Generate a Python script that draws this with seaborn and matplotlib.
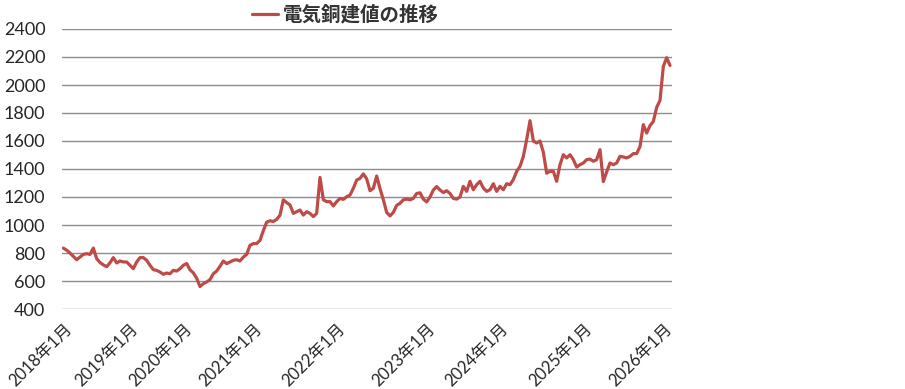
import matplotlib
matplotlib.use("Agg")
import matplotlib.pyplot as plt
import seaborn as sns
import pandas as pd

# ---- data ----
prices = [
    835, 820, 800, 776, 752, 771, 790, 795, 790, 835, 760, 732, 715, 702, 730, 767, 729, 743, 736, 736,
    712, 688, 736, 767, 767, 748, 712, 681, 676, 664, 648, 657, 652, 676, 671, 688, 712, 725, 680, 658,
    620, 560, 581, 593, 610, 652, 671, 705, 743, 724, 736, 748, 752, 743, 771, 790, 855, 867, 867, 890,
    960, 1020, 1030, 1025, 1040, 1070, 1180, 1160, 1143, 1083, 1095, 1107, 1071, 1095, 1083, 1060, 1083,
    1340, 1180, 1167, 1167, 1136, 1167, 1190, 1183, 1202, 1214, 1262, 1321, 1333, 1365, 1330, 1245, 1262,
    1350, 1260, 1180, 1090, 1065, 1090, 1140, 1155, 1180, 1185, 1180, 1190, 1225, 1230, 1185, 1165, 1200,
    1250, 1275, 1250, 1232, 1245, 1225, 1190, 1185, 1200, 1276, 1240, 1312, 1252, 1288, 1312, 1264, 1240,
    1252, 1295, 1240, 1276, 1252, 1295, 1288, 1324, 1383, 1419, 1490, 1610, 1745, 1600, 1586, 1600, 1520,
    1370, 1383, 1383, 1312, 1431, 1502, 1479, 1502, 1467, 1414, 1431, 1443, 1467, 1471, 1455, 1467, 1538,
    1310, 1380, 1443, 1431, 1443, 1490, 1486, 1479, 1490, 1510, 1510, 1560, 1717, 1657, 1710, 1740, 1840,
    1890, 2133, 2195, 2140,
]
year_labels = ["2018年1月", "2019年1月", "2020年1月", "2021年1月", "2022年1月",
               "2023年1月", "2024年1月", "2025年1月", "2026年1月"]
year_start_idx = [0, 20, 36, 57, 82, 109, 131, 156, 180]
series_name = "電気銅建値の推移"
y_ticks = [400, 600, 800, 1000, 1200, 1400, 1600, 1800, 2000, 2200, 2400]

df = pd.DataFrame({"idx": range(len(prices)), "price": prices, "series": series_name})

sns.set_style("white")
plt.rcParams["font.family"] = ["Lato", "Noto Sans CJK JP", "DejaVu Sans"]

fig = plt.figure(figsize=(9.05, 3.89), dpi=100)
ax = fig.add_axes([62 / 905, 1 - 309 / 389, (672 - 62) / 905, (309 - 29) / 389])

sns.lineplot(data=df, x="idx", y="price", hue="series", palette=["#BE4B48"],
             linewidth=2.3, ax=ax, legend=True)

ax.set_ylim(400, 2400)
ax.set_xlim(-0.4, 182.6)
ax.set_yticks(y_ticks)
ax.set_yticklabels([str(v) for v in y_ticks], fontsize=13)
ax.set_xticks(year_start_idx)
ax.set_xticklabels(year_labels, fontsize=12, rotation=45, ha="right", va="top",
                   rotation_mode="anchor")
ax.tick_params(axis="y", length=0, pad=12)
ax.tick_params(axis="x", length=0, pad=8)
ax.set_xlabel("")
ax.set_ylabel("")
for s in ax.spines.values():
    s.set_visible(False)
ax.grid(axis="y", color="#8c8c8c", linewidth=1.0)
ax.grid(axis="x", visible=False)
ax.set_axisbelow(True)

leg = ax.legend(loc="center left", bbox_to_anchor=(252 / 905, 1 - 15 / 389),
                bbox_transform=fig.transFigure, frameon=False, borderpad=0,
                borderaxespad=0, handlelength=1.35, handletextpad=0.25,
                prop={"family": ["Noto Sans CJK JP"], "size": 14, "weight": "bold"})
for t in leg.get_texts():
    t.set_color("#333333")

fig.savefig("out.png", dpi=100)
